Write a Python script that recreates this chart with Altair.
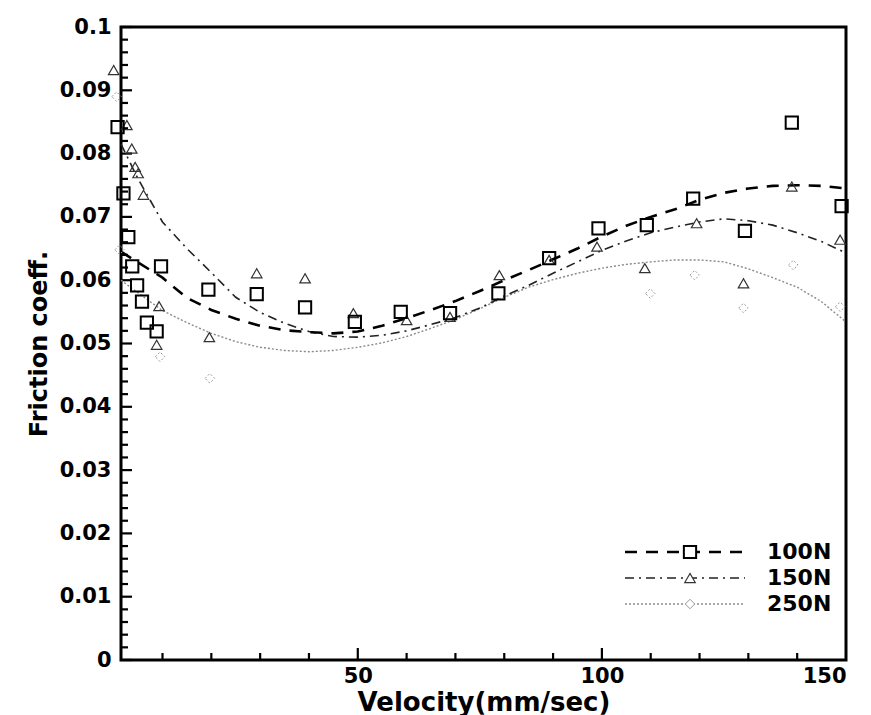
import altair as alt
import pandas as pd
import numpy as np

# ---------------- data ----------------
sq_x = [0.8, 2.0, 3.0, 3.8, 4.8, 5.8, 6.8, 8.8, 9.7, 19.4, 29.3, 39.2, 49.4, 58.8, 68.9, 78.8, 89.2, 99.3, 109.2, 118.7, 129.3, 138.9, 149.1]
sq_y = [0.0842, 0.0737, 0.0668, 0.0622, 0.0592, 0.0566, 0.0533, 0.0519, 0.0622, 0.0585, 0.0578, 0.0557, 0.0534, 0.0550, 0.0548, 0.0579, 0.0635, 0.0682, 0.0687, 0.0729, 0.0678, 0.0849, 0.0717]

tri_x = [0.0, 2.7, 3.7, 4.4, 5.0, 6.1, 8.8, 9.3, 19.6, 29.3, 39.2, 49.1, 60.0, 68.9, 79.0, 89.2, 99.0, 108.8, 119.4, 129.0, 138.9, 148.8]
tri_y = [0.0932, 0.0845, 0.0808, 0.0779, 0.0769, 0.0735, 0.0498, 0.0559, 0.0510, 0.0611, 0.0603, 0.0548, 0.0537, 0.0542, 0.0608, 0.0632, 0.0653, 0.0619, 0.0690, 0.0595, 0.0748, 0.0664]

dia_x = [0.6, 1.2, 9.5, 19.7, 109.9, 119.0, 129.0, 139.2, 148.8]
dia_y = [0.0890, 0.0648, 0.0479, 0.0445, 0.0579, 0.0608, 0.0556, 0.0624, 0.0558]

curve_x = [1.5, 5, 10, 15, 20, 25, 30, 35, 40, 45, 50, 55, 60, 65, 70, 75, 80, 85, 90, 95, 100, 105, 110, 115, 120, 125, 130, 135, 140, 145, 150]
fit_100 = [0.0645, 0.0628, 0.0604, 0.0572, 0.0553, 0.0539, 0.0528, 0.0521, 0.0518, 0.0516, 0.0519, 0.0528, 0.0540, 0.0553, 0.0567, 0.0583, 0.0600, 0.0616, 0.0633, 0.0650, 0.0669, 0.0686, 0.0700, 0.0712, 0.0727, 0.0738, 0.0745, 0.0749, 0.0750, 0.0749, 0.0745]
fit_150 = [0.0815, 0.0760, 0.0692, 0.0650, 0.0612, 0.0573, 0.0549, 0.0532, 0.0519, 0.0511, 0.0510, 0.0513, 0.0520, 0.0530, 0.0541, 0.0556, 0.0575, 0.0592, 0.0611, 0.0629, 0.0647, 0.0662, 0.0675, 0.0684, 0.0692, 0.0697, 0.0694, 0.0687, 0.0675, 0.0661, 0.0643]
fit_250 = [0.0600, 0.0580, 0.0552, 0.0533, 0.0516, 0.0503, 0.0494, 0.0489, 0.0487, 0.0489, 0.0494, 0.0501, 0.0511, 0.0524, 0.0538, 0.0555, 0.0573, 0.0589, 0.0601, 0.0611, 0.0619, 0.0625, 0.0629, 0.0632, 0.0632, 0.0629, 0.0618, 0.0604, 0.0589, 0.0566, 0.0534]

series_names = ["100N", "150N", "250N"]
y_major = [0.0, 0.01, 0.02, 0.03, 0.04, 0.05, 0.06, 0.07, 0.08, 0.09, 0.1]
x_labels = [50, 100, 150]

# ---------------- chart ----------------
W, H = 725, 633
X0, X1, Y0, Y1 = 1.5, 150.0, 0.0, 0.1
FONT = "DejaVu Sans"
xs = alt.Scale(domain=[X0, X1], nice=False, zero=False)
ys = alt.Scale(domain=[Y0, Y1], nice=False, zero=True)
px_x = (X1 - X0) / W      # data units per pixel
px_y = (Y1 - Y0) / H

xaxis = alt.Axis(values=x_labels, title="Velocity(mm/sec)", ticks=False, domain=False, grid=False,
                 labelFont=FONT, labelFontWeight="bold", labelFontSize=21, labelColor="black",
                 labelPadding=5, titleFont=FONT, titleFontWeight="bold", titleFontSize=26,
                 titleColor="black", titlePadding=3)
yaxis = alt.Axis(values=y_major, format="~g", title="Friction coeff.", ticks=False, domain=False,
                 grid=False, labelFont=FONT, labelFontWeight="bold", labelFontSize=21,
                 labelColor="black", labelPadding=10, titleFont=FONT, titleFontWeight="bold",
                 titleFontSize=24, titleColor="black", titlePadding=8)

# inside ticks as rules in data units
y_minor = [round(v, 3) for v in np.arange(0, 0.1001, 0.002) if round(v * 1000) % 10 != 0]
x_minor = [v for v in range(10, 150, 10) if v % 50 != 0]
ytick = pd.DataFrame({"v": y_major + y_minor,
                      "len": [11] * len(y_major) + [7] * len(y_minor)})
ytick["x0"] = X0
ytick["x1"] = X0 + ytick["len"] * px_x
xtick = pd.DataFrame({"v": [50, 100] + x_minor, "len": [12, 12] + [7] * len(x_minor)})
xtick["y0"] = Y0
xtick["y1"] = Y0 + xtick["len"] * px_y

t_y = alt.Chart(ytick).mark_rule(color="black", strokeWidth=2.2).encode(
    x=alt.X("x0:Q", scale=xs, axis=xaxis), x2="x1:Q", y=alt.Y("v:Q", scale=ys, axis=yaxis))
t_x = alt.Chart(xtick).mark_rule(color="black", strokeWidth=2.2).encode(
    x=alt.X("v:Q", scale=xs), y=alt.Y("y0:Q", scale=ys), y2="y1:Q")

curves = pd.DataFrame({"x": curve_x, "a": fit_100, "b": fit_150, "c": fit_250})
l100 = alt.Chart(curves).mark_line(color="black", strokeWidth=2.6, strokeDash=[12, 9]).encode(x=alt.X("x:Q", scale=xs), y=alt.Y("a:Q", scale=ys))
l150 = alt.Chart(curves).mark_line(color="#222", strokeWidth=1.6, strokeDash=[9, 5, 2, 5]).encode(x=alt.X("x:Q", scale=xs), y=alt.Y("b:Q", scale=ys))
l250 = alt.Chart(curves).mark_line(color="#8a8a8a", strokeWidth=1.4, strokeDash=[2, 2]).encode(x=alt.X("x:Q", scale=xs), y=alt.Y("c:Q", scale=ys))

sq = alt.Chart(pd.DataFrame({"x": sq_x, "y": sq_y})).mark_point(shape="square", size=150, filled=False, color="black", strokeWidth=2, clip=False, opacity=1).encode(x=alt.X("x:Q", scale=xs), y=alt.Y("y:Q", scale=ys))
tr = alt.Chart(pd.DataFrame({"x": tri_x, "y": tri_y})).mark_point(shape="triangle-up", size=110, filled=False, color="#333", strokeWidth=1.2, clip=False, opacity=1).encode(x=alt.X("x:Q", scale=xs), y=alt.Y("y:Q", scale=ys))
di = alt.Chart(pd.DataFrame({"x": dia_x, "y": dia_y})).mark_point(shape="diamond", size=90, filled=False, color="#999", strokeWidth=1, strokeDash=[2, 2], clip=False, opacity=1).encode(x=alt.X("x:Q", scale=xs), y=alt.Y("y:Q", scale=ys))

# legend (inside, lower right)
leg = pd.DataFrame({"name": series_names, "row": [0, 1, 2]})
lg_base = alt.Chart(leg).transform_calculate(py="525 + datum.row * 26")
def lrow(i):
    return lg_base.transform_filter(f"datum.row == {i}")
lg_l1 = lrow(0).mark_rule(color="black", strokeWidth=2.6, strokeDash=[12, 9]).encode(x=alt.value(504), x2=alt.value(624), y=alt.Y("py:Q", scale=None))
lg_l2 = lrow(1).mark_rule(color="#222", strokeWidth=1.6, strokeDash=[9, 5, 2, 5]).encode(x=alt.value(504), x2=alt.value(624), y=alt.Y("py:Q", scale=None))
lg_l3 = lrow(2).mark_rule(color="#8a8a8a", strokeWidth=1.4, strokeDash=[2, 2]).encode(x=alt.value(504), x2=alt.value(624), y=alt.Y("py:Q", scale=None))
lg_p1 = lrow(0).mark_point(shape="square", size=150, filled=True, fill="white", stroke="black", strokeWidth=2, opacity=1).encode(x=alt.value(569), y=alt.Y("py:Q", scale=None))
lg_p2 = lrow(1).mark_point(shape="triangle-up", size=110, filled=True, fill="white", stroke="#333", strokeWidth=1.2, opacity=1).encode(x=alt.value(569), y=alt.Y("py:Q", scale=None))
lg_p3 = lrow(2).mark_point(shape="diamond", size=90, filled=True, fill="white", stroke="#999", strokeWidth=1, opacity=1).encode(x=alt.value(569), y=alt.Y("py:Q", scale=None))
lg_t = lg_base.mark_text(align="left", baseline="middle", font=FONT, fontWeight="bold", fontSize=22, color="black").encode(x=alt.value(646), y=alt.Y("py:Q", scale=None), text="name:N")

chart = alt.layer(t_y, t_x, l250, l150, l100, di, tr, sq,
                  lg_l1, lg_l2, lg_l3, lg_p1, lg_p2, lg_p3, lg_t).properties(
    width=W, height=H, autosize="none",
    padding={"left": 113, "top": 19, "right": 17, "bottom": 60},
    background="white",
).configure_view(stroke="black", strokeWidth=3)

chart.save("out.html", embed_options={"renderer": "svg", "actions": False})
